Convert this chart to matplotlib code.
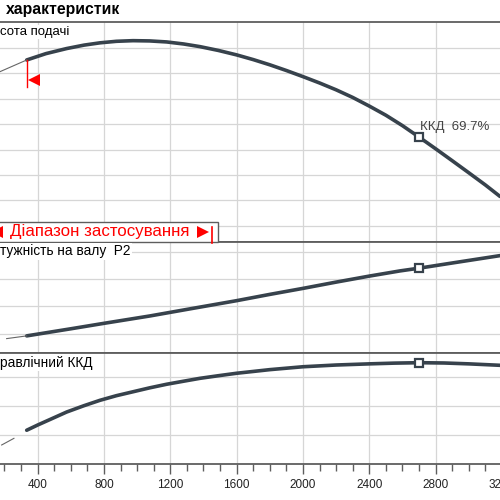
import matplotlib.pyplot as plt
from matplotlib.lines import Line2D
from matplotlib.patches import Rectangle

plt.rcParams["font.family"] = ["Liberation Sans", "DejaVu Sans"]

# flow values
head_q = [334, 450, 575, 680, 776, 875, 975, 1075, 1178, 1280, 1379, 1490, 1600, 1700, 1800,
          1900, 2000, 2100, 2200, 2300, 2400, 2500, 2600, 2700, 2800, 2900, 3000, 3100, 3188]
head_h = [33.05, 33.55, 33.95, 34.22, 34.40, 34.52, 34.57, 34.55, 34.47, 34.31, 34.10, 33.80,
          33.45, 33.08, 32.67, 32.22, 31.74, 31.24, 30.70, 30.10, 29.42, 28.70, 27.88, 26.98,
          26.06, 25.12, 24.17, 23.21, 22.31]
head_ext_q = [173, 334]
head_ext_h = [32.13, 33.05]

power_q = [334, 600, 800, 1077, 1300, 1600, 1800, 2000, 2200, 2400, 2585, 2700, 2900, 3188]
power_p = [0.92, 1.18, 1.38, 1.65, 1.89, 2.21, 2.44, 2.66, 2.89, 3.11, 3.30, 3.40, 3.59, 3.86]
power_ext_q = [213, 334]
power_ext_p = [0.82, 0.92]

eff_q = [334, 400, 474, 575, 680, 776, 875, 975, 1075, 1178, 1280, 1379, 1490, 1600, 1800,
         2000, 2200, 2400, 2550, 2700, 2850, 3000, 3188]
eff_e = [23.0, 26.6, 30.4, 35.6, 40.0, 43.7, 46.9, 49.6, 52.3, 54.8, 56.9, 58.9, 60.7, 62.4,
         64.9, 66.9, 68.1, 68.9, 69.4, 69.7, 69.5, 68.9, 67.9]
eff_ext_q = [183, 257]
eff_ext_e = [12.8, 17.4]

duty_q = 2700
duty_h = 26.98
duty_p = 3.40
duty_eff = 69.7
range_start = 334

XMIN, XMAX = 173, 3210
W = (XMAX - XMIN) / 6.03 / 500

CURVE = "#37424c"
GRID = "#d6d6d6"
BORDER = "#5e5e5e"

fig = plt.figure(figsize=(5, 5), dpi=100)


def px(y):
    return 1 - y / 500


def make_ax(top, bottom, ylim, yticks):
    ax = fig.add_axes([0, px(bottom), W, (bottom - top) / 500])
    ax.set_yticks(yticks)
    ax.set_xticks(range(400, 3300, 400))
    ax.set_xlim(XMIN, XMAX)
    ax.set_ylim(*ylim)
    ax.grid(True, color=GRID, linewidth=0.9)
    ax.set_axisbelow(True)
    for side in ["left", "right"]:
        ax.spines[side].set_visible(False)
    for side in ["top", "bottom"]:
        ax.spines[side].set_color(BORDER)
        ax.spines[side].set_linewidth(1.3)
    ax.tick_params(axis="y", left=False, labelleft=False)
    ax.tick_params(axis="x", bottom=False, labelbottom=False)
    return ax


ax_h = make_ax(22.5, 242.3, (18.7, 36), range(20, 36, 2))
ax_p = make_ax(242.3, 353.3, (0.282, 4.348), [1, 2, 3, 4])
ax_e = make_ax(353.3, 463.5, (0, 76.2), [20, 40, 60])

ax_h.plot(head_q, head_h, color=CURVE, lw=2.6, solid_capstyle="round")
ax_h.plot(head_ext_q, head_ext_h, color="#666666", lw=0.8)
ax_h.plot([duty_q], [duty_h], marker="s", ms=6, mfc="white", mec=CURVE, mew=1.6)
ax_h.annotate("ККД  %.1f%%" % duty_eff, (duty_q, duty_h), xytext=(1, 3),
              textcoords="offset points", ha="left", va="bottom",
              fontsize=9.5, color="#444444")
# range start marker
ax_h.plot([range_start, range_start], [head_h[0], head_h[0] - 2.1], color="red", lw=1)
ax_h.plot([range_start + 45], [head_h[0] - 1.6], marker="<", ms=8, color="red", mew=0)

ax_p.plot(power_q, power_p, color=CURVE, lw=2.6, solid_capstyle="round")
ax_p.plot(power_ext_q, power_ext_p, color="#666666", lw=0.8)
ax_p.plot([duty_q], [duty_p], marker="s", ms=6, mfc="white", mec=CURVE, mew=1.6)

ax_e.plot(eff_q, eff_e, color=CURVE, lw=2.6, solid_capstyle="round")
ax_e.plot(eff_ext_q, eff_ext_e, color="#666666", lw=0.8)
ax_e.plot([duty_q], [duty_eff], marker="s", ms=6, mfc="white", mec=CURVE, mew=1.6)

ax_e.set_xticks(range(200, 3300, 100), minor=True)
ax_e.set_xlim(XMIN, XMAX)
ax_e.tick_params(axis="x", which="major", bottom=True, labelbottom=True,
                 length=7, width=1, color=BORDER, labelsize=8.5, pad=4,
                 labelcolor="#222222")
ax_e.tick_params(axis="x", which="minor", bottom=True, length=5, width=1, color=BORDER)

# panel labels
label_box = dict(facecolor="white", edgecolor="none", pad=1)
fig.text(0, px(32), "сота подачі", fontsize=9.5, va="center", ha="left", bbox=label_box)
fig.text(0, px(251.5), "тужність на валу  P2", fontsize=9.8, va="center", ha="left", bbox=label_box)
fig.text(0, px(362.5), "равлічний ККД", fontsize=9.8, va="center", ha="left", bbox=label_box)
fig.text(6 / 500, px(9.5), "характеристик", fontsize=11.3, fontweight="bold", va="center", ha="left")

# range legend box
fig.add_artist(Rectangle((-0.01, px(242.3)), 217.7 / 500 + 0.01, 20.6 / 500,
                         transform=fig.transFigure, facecolor="white",
                         edgecolor=BORDER, lw=1.0, zorder=2))
fig.text(10 / 500, px(231.5), "Діапазон застосування", fontsize=12.2, color="red",
         va="center", ha="left", zorder=3)
fig.add_artist(Line2D([-3 / 500], [px(231.5)], marker="<", ms=9, color="red", mew=0,
                      transform=fig.transFigure, zorder=3))
fig.add_artist(Line2D([202.5 / 500], [px(231.5)], marker=">", ms=9, color="red", mew=0,
                      transform=fig.transFigure, zorder=3))
fig.add_artist(Line2D([212 / 500, 212 / 500], [px(227.3), px(243.3)], color="red", lw=1.2,
                      transform=fig.transFigure, zorder=3))

fig.savefig("out.png", dpi=100)
